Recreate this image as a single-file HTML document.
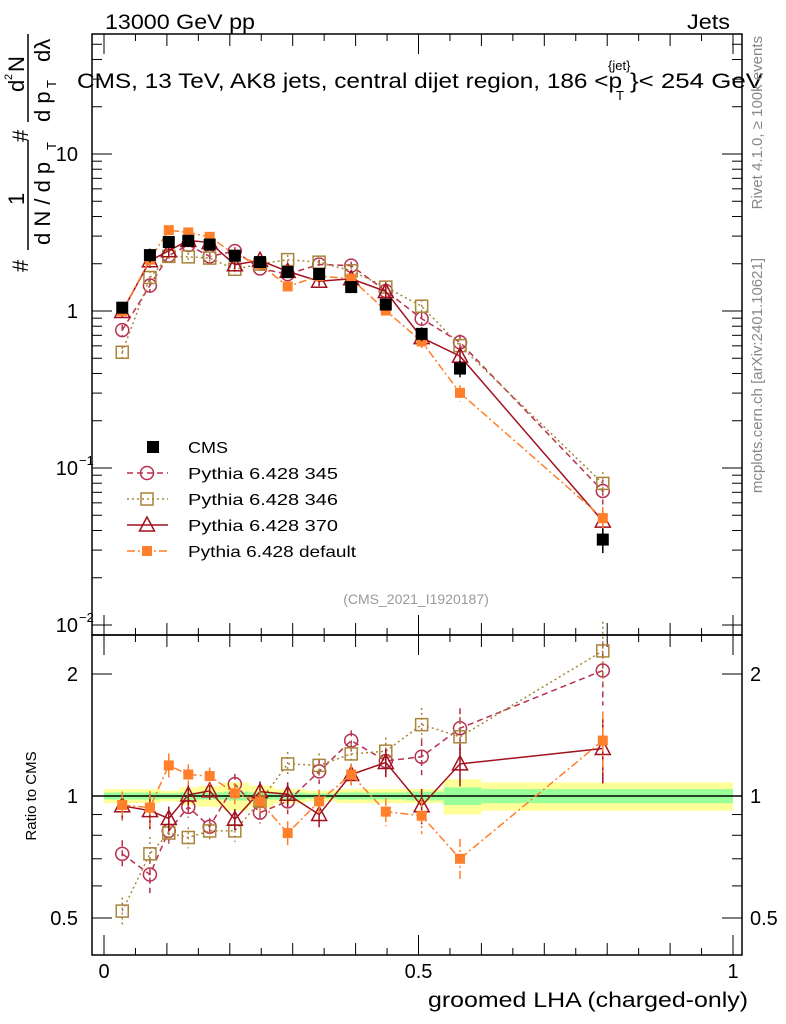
<!DOCTYPE html>
<html><head><meta charset="utf-8"><style>
html,body{margin:0;padding:0;background:#fff;}
svg{display:block;font-family:"Liberation Sans",sans-serif;}
</style></head><body>
<svg id="c" width="786" height="1024" viewBox="0 0 786 1024"></svg>
<script>
const xs=[0.029,0.073,0.103,0.134,0.168,0.208,0.248,0.292,0.342,0.393,0.448,0.505,0.566,0.793];
const cmsVals=[1.05,2.27,2.75,2.8,2.65,2.25,2.05,1.77,1.72,1.42,1.1,0.715,0.43,0.035];
const r345=[0.72,0.64,0.82,0.94,0.84,1.07,0.91,0.97,1.15,1.37,1.22,1.25,1.47,2.04];
const r346=[0.52,0.72,0.81,0.79,0.82,0.82,0.97,1.2,1.19,1.27,1.29,1.5,1.4,2.28];
const r370=[0.946,0.92,0.88,1.006,1.03,0.876,1.025,1.01,0.9,1.13,1.21,0.946,1.2,1.31];
const rDef=[0.95,0.936,1.19,1.13,1.12,1.015,0.97,0.81,0.97,1.13,0.915,0.894,0.70,1.37];
const relErr=[0.08,0.1,0.07,0.06,0.05,0.06,0.06,0.07,0.07,0.06,0.08,0.1,0.12,0.18];
const binEdges=[0,0.05,0.09,0.12,0.15,0.19,0.23,0.27,0.32,0.37,0.42,0.48,0.54,0.6,1.0];
const statBand=[0.02,0.02,0.015,0.02,0.02,0.025,0.02,0.02,0.015,0.02,0.02,0.025,0.05,0.04];
const totBand=[0.04,0.04,0.03,0.05,0.06,0.08,0.06,0.04,0.03,0.04,0.04,0.04,0.1,0.08];
const yTicksMain=[10,1,0.1,0.01];
const yTickLblMain=["10","1","10","10"];
const yTickExpMain=["","","−1","−2"];

const svg=document.getElementById('c');
const NS='http://www.w3.org/2000/svg';
function el(t,a,p){const e=document.createElementNS(NS,t);for(const k in a)e.setAttribute(k,a[k]);(p||svg).appendChild(e);return e;}
const L=92,R=742,T=34,M=635,B=955;
const X=v=>104+629*v;
const Y=v=>311-157*Math.log10(v);
const YR=v=>796-122*Math.log2(v);

for(let i=0;i<binEdges.length-1;i++){
  const x0=X(binEdges[i]),x1=X(binEdges[i+1]);
  const b1=el('rect',{x:x0,y:YR(1+totBand[i]),width:x1-x0,height:YR(1-totBand[i])-YR(1+totBand[i]),fill:'#ffff99'});
  
  
  const b2=el('rect',{x:x0,y:YR(1+statBand[i]),width:x1-x0,height:YR(1-statBand[i])-YR(1+statBand[i]),fill:'#99ff99'});
  
  
}
el('line',{x1:L,x2:R,y1:YR(1),y2:YR(1),stroke:'#000','stroke-width':1.5});

el('rect',{x:L,y:T,width:R-L,height:M-T,fill:'none',stroke:'#000','stroke-width':1.5});
el('rect',{x:L,y:M,width:R-L,height:B-M,fill:'none',stroke:'#000','stroke-width':1.5});

for(let k=0;k<=20;k++){const v=k*0.05,x=X(v);const big=k%10==0;const len=big?20:(k%2==0?12:7);
  el('line',{x1:x,x2:x,y1:B,y2:B-len,stroke:'#000'});
  el('line',{x1:x,x2:x,y1:M,y2:M-len,stroke:'#000'});
  el('line',{x1:x,x2:x,y1:M,y2:M+len,stroke:'#000'});
  el('line',{x1:x,x2:x,y1:T,y2:T+len,stroke:'#000'});
}
[["0",0],["0.5",0.5],["1",1]].forEach(([t,v])=>{const e=el('text',{x:X(v),y:978,'font-size':20,'text-anchor':'middle'});e.textContent=t;
 });
for(let d=-2;d<=1;d++){for(let m=1;m<=9;m++){const v=m*Math.pow(10,d);const y=Y(v);if(y<T||y>M)continue;const len=m==1?20:10;
  el('line',{x1:L,x2:L+len,y1:y,y2:y,stroke:'#000'});el('line',{x1:R,x2:R-len,y1:y,y2:y,stroke:'#000'});}}
yTicksMain.forEach((v,i)=>{const t=el('text',{x:78,y:Y(v)+7,'font-size':20,'text-anchor':'end'});t.textContent=yTickLblMain[i];
 
 if(yTickExpMain[i]){const s=el('text',{x:79,y:Y(v)-3,'font-size':13});s.textContent=yTickExpMain[i];}});
[0.5,0.6,0.7,0.8,0.9,1,2].forEach(v=>{const y=YR(v);const len=(v==1||v==2||v==0.5)?20:10;
 el('line',{x1:L,x2:L+len,y1:y,y2:y,stroke:'#000'});el('line',{x1:R,x2:R-len,y1:y,y2:y,stroke:'#000'});});
[["2",2],["1",1],["0.5",0.5]].forEach(([t,v])=>{let e=el('text',{x:78,y:YR(v)+7,'font-size':20,'text-anchor':'end'});e.textContent=t;
 e=el('text',{x:750,y:YR(v)+7,'font-size':20});e.textContent=t;});

const series=[
 {name:'pythia-345',r:r345,col:'#b73050',dash:'6,4',mk:'circle'},
 {name:'pythia-346',r:r346,col:'#a8853a',dash:'2,3',mk:'osq'},
 {name:'pythia-370',r:r370,col:'#a0101e',dash:'',mk:'tri'},
 {name:'pythia-default',r:rDef,col:'#ff7f2a',dash:'8,3,2,3',mk:'fsq'}];
function marker(mk,x,y,col,g){
 if(mk=='circle')el('circle',{cx:x,cy:y,r:6.5,fill:'none',stroke:col,'stroke-width':1.5},g);
 else if(mk=='osq')el('rect',{x:x-6,y:y-6,width:12,height:12,fill:'none',stroke:col,'stroke-width':1.5},g);
 else if(mk=='tri')el('path',{d:`M${x},${y-8}L${x+7.5},${y+6}L${x-7.5},${y+6}Z`,fill:'none',stroke:col,'stroke-width':1.5},g);
 else if(mk=='fsq')el('rect',{x:x-5,y:y-5,width:10,height:10,fill:col},g);
 else el('rect',{x:x-6,y:y-6,width:12,height:12,fill:'#000'},g);
}
function drawSeries(vals,fy,s,panel){
 const g=el('g',{});
 
 
 if(s.col){el('polyline',{points:vals.map((v,i)=>X(xs[i])+','+fy(v)).join(' '),fill:'none',stroke:s.col,'stroke-width':1.5,'stroke-dasharray':s.dash},g);}
 vals.forEach((v,i)=>{const e=relErr[i];const x=X(xs[i]);
  el('line',{x1:x,x2:x,y1:fy(v*(1+e)),y2:fy(v*(1-e)),stroke:s.col||'#000','stroke-width':1.5,'stroke-dasharray':s.dash},g);
  marker(s.mk,x,fy(v),s.col||'#000',g);});
}
series.forEach(s=>drawSeries(cmsVals.map((c,i)=>c*s.r[i]),Y,s,'main'));
drawSeries(cmsVals,Y,{name:'cms-data',mk:'cms',dash:''},'main');
series.forEach(s=>drawSeries(s.r,YR,s,'ratio'));

const lg=[['CMS',null],['Pythia 6.428 345',series[0]],['Pythia 6.428 346',series[1]],['Pythia 6.428 370',series[2]],['Pythia 6.428 default',series[3]]];
lg.forEach(([t,s],i)=>{const y=447+i*26;const g=el('g',{});
 
 if(s){el('line',{x1:127,x2:168,y1:y,y2:y,stroke:s.col,'stroke-width':1.5,'stroke-dasharray':s.dash},g);marker(s.mk,147,y,s.col,g);}
 else marker('cms',153,y,'#000',g);
 const e=el('text',{x:188,y:y+6,'font-size':16,textLength:[40,150,150,150,168][i],lengthAdjust:'spacingAndGlyphs'},g);e.textContent=t;});

function txt(t,a,name){const e=el('text',a);e.textContent=t;return e;}
txt('13000 GeV pp',{x:105,y:29,'font-size':21,textLength:150,lengthAdjust:'spacingAndGlyphs'},'header-left');
txt('Jets',{x:687,y:29,'font-size':21,textLength:43,lengthAdjust:'spacingAndGlyphs'},'header-right');
txt('CMS, 13 TeV, AK8 jets, central dijet region, 186 <p',{x:77,y:88,'font-size':21,textLength:545,lengthAdjust:'spacingAndGlyphs'},'plot-title');
txt('{jet}',{x:608,y:70,'font-size':13},'title-sup');txt('T',{x:616,y:100,'font-size':13},'title-sub');
txt('}< 254 GeV',{x:630,y:88,'font-size':21,textLength:133,lengthAdjust:'spacingAndGlyphs'},'title-end');
txt('(CMS_2021_I1920187)',{x:416,y:604,'font-size':14,fill:'#999','text-anchor':'middle'},'analysis-id');
txt('groomed LHA (charged-only)',{x:428,y:1007,'font-size':21,textLength:320,lengthAdjust:'spacingAndGlyphs'},'x-axis-title');
txt('Ratio to CMS',{x:0,y:0,'font-size':15,'text-anchor':'middle',transform:'translate(36,796) rotate(-90)'},'ratio-y-axis-title');
txt('Rivet 4.1.0, \u2265 100k events',{x:0,y:0,'font-size':15,fill:'#888','text-anchor':'end',transform:'translate(762,36) rotate(-90)'},'rivet-label');
txt('mcplots.cern.ch [arXiv:2401.10621]',{x:0,y:0,'font-size':15,fill:'#888','text-anchor':'end',transform:'translate(762,258) rotate(-90)'},'mcplots-label');
const g=el('g',{transform:'rotate(-90)'});

[['#',-272,28,22],['1',-205,24,22],['d N / d p',-245,50,22],['T',-150,56,13],['#',-142,28,22],['d',-92,24,22],['2',-80,12,11],['N',-72,24,22],['d p',-122,50,22],['T',-88,56,13],['d\u03bb',-62,50,22]].forEach(([t,x,y,s])=>{const e=el('text',{x:x,y:y,'font-size':s},g);e.textContent=t;});
el('line',{x1:-250,x2:-140,y1:28,y2:28,stroke:'#000','stroke-width':1.5},g);
el('line',{x1:-122,x2:-34,y1:28,y2:28,stroke:'#000','stroke-width':1.5},g);
</script>
</body></html>
